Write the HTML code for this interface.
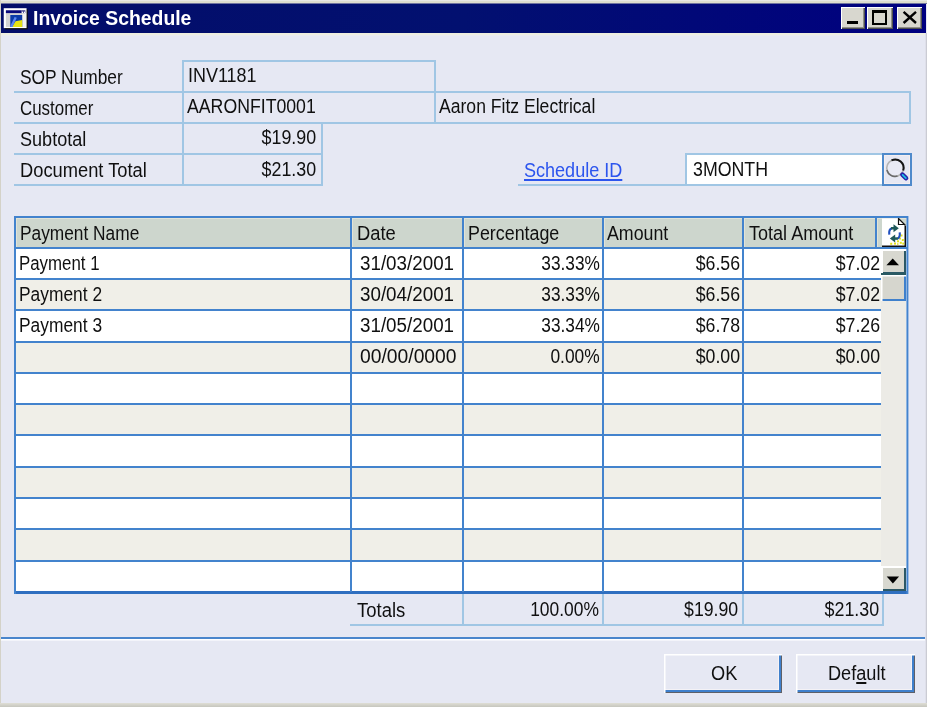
<!DOCTYPE html>
<html><head><meta charset="utf-8"><title>Invoice Schedule</title>
<style>
html,body{margin:0;padding:0}
body{position:relative;width:927px;height:707px;overflow:hidden;background:#e6e8f3;font-family:"Liberation Sans",sans-serif}
#blur{position:absolute;left:-8px;top:-8px;width:943px;height:723px;overflow:hidden;filter:blur(0.45px);background:#e6e8f3}
#win{position:absolute;left:8px;top:8px;width:927px;height:707px;overflow:visible;background:#e6e8f3}
#win div,#win span,#win svg{position:absolute}
.t{font-size:20px;line-height:24px;white-space:nowrap;color:#101010}
.t.title{font-weight:bold;color:#fff}
.t.link{color:#2c55ee;text-decoration:underline;text-decoration-thickness:1.5px;text-underline-offset:1.5px}
.t u{text-decoration-thickness:1.5px;text-underline-offset:2px}
.lb{background:#a0c6e4}
.gl{background:#4383cd}
.alt{background:#f0efe8}
.wh{background:#fff}
.hd{background:#cdd6cd;box-shadow:inset 1px 1px 0 #e2e3d6}
.btn{background:#e6e8f3;box-shadow:inset 1.5px 1.5px 0 #fff, inset -1px -1px 0 #5e6068, inset -3px -3px 0 #3f80cc, inset -4px -4px 0 #f4f2f6}
.sbtn{background:#d8d8d0;box-shadow:inset 2px 2px 0 #fff,inset -2px -2px 0 #2c5866}
.cap{background:#d8d7cf;box-shadow:inset 1px 1px 0 #fff,inset -1px -1px 0 #505050,inset -2px -2px 0 #909088}

</style></head>
<body>
<div id="blur"><div id="win">
<!-- edge extensions (so blur has no transparent bleed) -->
<div style="left:-8px;top:-8px;width:943px;height:8px;background:#e8e8e4"></div>
<div style="left:-8px;top:-8px;width:8px;height:723px;background:#d4d2c8"></div>
<div style="left:927px;top:-8px;width:8px;height:723px;background:#cbccd4"></div>
<div style="left:-8px;top:707px;width:943px;height:8px;background:#c6c6be"></div>
<!-- window frame -->
<div style="left:0;top:0;width:927px;height:4px;background:linear-gradient(180deg,#e8e8e4 0,#e8e8e4 1px,#dedecf 1px,#dedecf 3px,#70749f 3px)"></div>
<div style="left:0;top:0;width:1px;height:707px;background:#d4d2c8"></div>
<div style="left:1px;top:33px;width:925px;height:3px;background:linear-gradient(180deg,#ededde 0,#eeeee2 2px,#eaebee 2px)"></div>
<div style="left:925px;top:33px;width:2px;height:674px;background:linear-gradient(90deg,#dfe0ea 0,#dfe0ea 1px,#cbccd4 1px)"></div>
<div style="left:0;top:703px;width:927px;height:4px;background:linear-gradient(180deg,#dfded5,#c6c6be)"></div>
<!-- title bar -->
<div style="left:1px;top:4px;width:925px;height:29px;background:linear-gradient(90deg,#030d69,#021070 50%,#000080)"></div>
<!-- title icon -->
<svg style="left:0;top:0" width="32" height="34" viewBox="0 0 32 34">
  <rect x="5" y="9.4" width="22.7" height="19.9" fill="#0c0c0c"/>
  <rect x="3.75" y="8.2" width="22.8" height="19.9" fill="#fdfdfd"/>
  <rect x="5.9" y="10.3" width="19.4" height="16.6" fill="#d2d2d2"/>
  <rect x="5.9" y="10.3" width="15.2" height="2.8" fill="#08087c"/>
  <rect x="21.1" y="10.3" width="4.2" height="2.8" fill="#3a3a8c"/>
  <rect x="21.8" y="11.6" width="1.2" height="1.5" fill="#fff"/><rect x="23.8" y="11.6" width="1.2" height="1.5" fill="#fff"/>
  <rect x="22.2" y="13.5" width="3.6" height="13.4" fill="#f2f2f2"/>
  <rect x="10.3" y="15" width="11.9" height="11.9" fill="#0b3aa8"/>
  <polygon points="22.2,20 22.2,26.9 12,26.9 15.5,21.3" fill="#e6e212"/>
  <polygon points="10.6,25.6 14.6,17 16.8,17.8 12.4,26.9 10.6,26.9" fill="#5b86f2"/>
</svg>
<!-- caption buttons -->
<div class="cap" style="left:841px;top:7px;width:24px;height:22px"></div>
<div class="cap" style="left:867px;top:7px;width:26px;height:22px"></div>
<div class="cap" style="left:897px;top:7px;width:25px;height:22px"></div>
<div style="left:847px;top:21px;width:11px;height:3px;background:#000"></div>
<div style="left:872px;top:10px;width:15px;height:14.5px;box-sizing:border-box;border:2px solid #000;border-top-width:3px"></div>
<svg style="left:902px;top:10px" width="16" height="16" viewBox="0 0 16 16"><path d="M1.6 1.8 L14 13 M14 1.8 L1.6 13" stroke="#000" stroke-width="2.4" fill="none"/></svg>

<!-- form lines -->
<div class="lb" style="left:14px;top:91px;width:897px;height:2px"></div>
<div class="lb" style="left:14px;top:122px;width:897px;height:2px"></div>
<div class="lb" style="left:14px;top:153px;width:309px;height:2px"></div>
<div class="lb" style="left:14px;top:184px;width:309px;height:2px"></div>
<div class="lb" style="left:182px;top:60px;width:254px;height:2px"></div>
<div class="lb" style="left:182px;top:60px;width:2px;height:126px"></div>
<div class="lb" style="left:434px;top:60px;width:2px;height:64px"></div>
<div class="lb" style="left:909px;top:91px;width:2px;height:33px"></div>
<div class="lb" style="left:321px;top:122px;width:2px;height:64px"></div>
<!-- schedule id -->
<div class="lb" style="left:518px;top:184px;width:170px;height:2px"></div>
<div class="lb" style="left:685px;top:153px;width:198px;height:33px"></div>
<div class="wh" style="left:687px;top:155px;width:195px;height:29px"></div>
<!-- lookup button -->
<div style="left:882px;top:153px;width:30px;height:33px;box-sizing:border-box;border:2px solid #4f8acb;background:#e6e8f3;box-shadow:inset 1px 1px 0 #f4eef0,inset -1px -1px 0 #f4eef0"></div>
<svg style="left:882px;top:153px" width="30" height="33" viewBox="0 0 30 33">
  <circle cx="13.1" cy="15" r="8.4" fill="#e9eaf4" stroke="#b4b4b4" stroke-width="1.6"/>
  <path d="M4.9 17 A8.4 8.4 0 0 0 15.5 23.05" fill="none" stroke="#6a6a6a" stroke-width="1.5"/>
  <path d="M9.5 7.4 A8.4 8.4 0 0 1 21.2 17.5" fill="none" stroke="#141414" stroke-width="2"/>
  <path d="M20.4 21.6 L24 25.2" stroke="#2a22a8" stroke-width="4.6" stroke-linecap="round"/>
  <path d="M20.6 21.8 L23.9 25.1" stroke="#1cc4e6" stroke-width="1.7" stroke-linecap="round"/>
</svg>

<!-- grid -->
<div class="wh" style="left:14px;top:216px;width:894px;height:378px"></div>
<div class="hd" style="left:16px;top:218px;width:890px;height:30px"></div>
<div class="alt" style="left:16px;top:280px;width:865px;height:30px"></div>
<div class="alt" style="left:16px;top:343px;width:865px;height:30px"></div>
<div class="alt" style="left:16px;top:405px;width:865px;height:30px"></div>
<div class="alt" style="left:16px;top:468px;width:865px;height:30px"></div>
<div class="alt" style="left:16px;top:530px;width:865px;height:31px"></div>
<!-- scrollbar -->
<div style="left:881px;top:249px;width:25px;height:343px;background:#ecebe6"></div>
<div class="sbtn" style="left:881px;top:249px;width:25px;height:25px"></div>
<div style="left:881px;top:273px;width:25px;height:2px;background:#2a5a62"></div>
<div style="left:881px;top:275px;width:25px;height:26px;background:#d6d6ce;box-shadow:inset 1.5px 1.5px 0 #fff,inset -2px -2px 0 #3f80cc"></div>
<div class="sbtn" style="left:881px;top:566px;width:25px;height:25px"></div>
<svg style="left:881px;top:249px" width="25" height="25" viewBox="0 0 25 25"><polygon points="11.7,9.5 18,16.2 5.4,16.2" fill="#000"/></svg>
<svg style="left:881px;top:566px" width="25" height="26" viewBox="0 0 25 26"><polygon points="5.7,10.6 18.1,10.6 11.9,17.6" fill="#000"/></svg>
<!-- grid lines horizontal -->
<div class="gl" style="left:14px;top:216px;width:894px;height:2px"></div>
<div class="gl" style="left:14px;top:247px;width:894px;height:2px"></div>
<div class="gl" style="left:14px;top:278px;width:867px;height:2px"></div>
<div class="gl" style="left:14px;top:309px;width:867px;height:2px"></div>
<div class="gl" style="left:14px;top:341px;width:867px;height:2px"></div>
<div class="gl" style="left:14px;top:372px;width:867px;height:2px"></div>
<div class="gl" style="left:14px;top:403px;width:867px;height:2px"></div>
<div class="gl" style="left:14px;top:434px;width:867px;height:2px"></div>
<div class="gl" style="left:14px;top:466px;width:867px;height:2px"></div>
<div class="gl" style="left:14px;top:497px;width:867px;height:2px"></div>
<div class="gl" style="left:14px;top:528px;width:867px;height:2px"></div>
<div class="gl" style="left:14px;top:560px;width:867px;height:2px"></div>
<div class="gl" style="left:14px;top:591px;width:894px;height:3px;background:#2f6fc0"></div>
<!-- grid lines vertical -->
<div class="gl" style="left:14px;top:216px;width:2px;height:378px"></div>
<div class="gl" style="left:350px;top:216px;width:2px;height:376px"></div>
<div class="gl" style="left:462px;top:216px;width:2px;height:376px"></div>
<div class="gl" style="left:602px;top:216px;width:2px;height:376px"></div>
<div class="gl" style="left:742px;top:216px;width:2px;height:376px"></div>
<div class="gl" style="left:875px;top:216px;width:2px;height:32px"></div>
<div class="gl" style="left:906px;top:216px;width:2px;height:378px;transform:translateX(0.4px)"></div>
<div style="left:352px;top:218px;width:1px;height:29px;background:#e2e3d6"></div>
<div style="left:464px;top:218px;width:1px;height:29px;background:#e2e3d6"></div>
<div style="left:604px;top:218px;width:1px;height:29px;background:#e2e3d6"></div>
<div style="left:744px;top:218px;width:1px;height:29px;background:#e2e3d6"></div>
<div style="left:877px;top:218px;width:1px;height:29px;background:#e2e3d6"></div>
<!-- refresh icon -->
<svg style="left:881px;top:218px" width="27" height="30" viewBox="0 0 27 30">
  <polygon points="1,1 18,1 25,8 25,29 1,29" fill="#101010"/>
  <polygon points="1,0.5 17.5,0.5 23.5,6.5 23.5,27.5 1,27.5" fill="#fff"/>
  <polygon points="17.5,0.5 23.5,6.5 17.5,6.5" fill="#fff" stroke="#101010" stroke-width="1.2"/>
  <g fill="#e2e21c"><rect x="19.5" y="16.5" width="2" height="2"/><rect x="18" y="19.5" width="2" height="2"/><rect x="20.8" y="21" width="2" height="2"/><rect x="16" y="22.3" width="2" height="2"/><rect x="18.8" y="23.8" width="2" height="2"/><rect x="13" y="24.6" width="2" height="2"/><rect x="9.2" y="24.8" width="2" height="2"/><rect x="21.3" y="24.6" width="2" height="2"/><rect x="16" y="25.3" width="1.5" height="1.5"/></g>
  <path d="M8.3 16.6 Q7.6 11.4 10.8 10.3" fill="none" stroke="#2050c0" stroke-width="2.1"/>
  <rect x="10" y="9" width="3.2" height="2.5" fill="#1f5a5a"/>
  <polygon points="12.5,6.2 17.8,10.2 12.5,14.3" fill="#1f5a5a"/>
  <path d="M18.7 14.3 Q19.4 19.6 16.2 20.7" fill="none" stroke="#2050c0" stroke-width="2.1"/>
  <rect x="13.6" y="19.3" width="3.2" height="2.5" fill="#1f5a5a"/>
  <polygon points="14.2,16.5 8.8,20.5 14.2,24.6" fill="#1f5a5a"/>
</svg>

<!-- totals -->
<div class="lb" style="left:350px;top:624px;width:534px;height:2px"></div>
<div class="lb" style="left:462px;top:594px;width:2px;height:32px"></div>
<div class="lb" style="left:602px;top:594px;width:2px;height:32px"></div>
<div class="lb" style="left:742px;top:594px;width:2px;height:32px"></div>
<div class="lb" style="left:882px;top:594px;width:2px;height:32px"></div>
<!-- separator -->
<div style="left:1px;top:637px;width:924px;height:2px;background:#4a86cc"></div>
<div style="left:1px;top:639px;width:924px;height:2px;background:linear-gradient(180deg,#fff 0,#fff 1px,#f3f4fa 1px)"></div>
<!-- buttons -->
<div class="btn" style="left:664px;top:654px;width:118px;height:39px"></div>
<div class="btn" style="left:796px;top:654px;width:119px;height:39px"></div>

<span class="t " style="left:20.10px;top:64.60px;transform-origin:0 0;transform:scaleX(0.8669)">SOP Number</span>
<span class="t " style="left:20.10px;top:96.00px;transform-origin:0 0;transform:scaleX(0.8454)">Customer</span>
<span class="t " style="left:20.10px;top:127.00px;transform-origin:0 0;transform:scaleX(0.9034)">Subtotal</span>
<span class="t " style="left:20.10px;top:158.10px;transform-origin:0 0;transform:scaleX(0.9149)">Document Total</span>
<span class="t " style="left:187.85px;top:62.60px;transform-origin:0 0;transform:scaleX(0.8977)">INV1181</span>
<span class="t " style="left:187.10px;top:93.60px;transform-origin:0 0;transform:scaleX(0.8846)">AARONFIT0001</span>
<span class="t " style="right:610.35px;top:125.10px;transform-origin:100% 0;transform:scaleX(0.8926)">$19.90</span>
<span class="t " style="right:610.35px;top:156.60px;transform-origin:100% 0;transform:scaleX(0.8926)">$21.30</span>
<span class="t " style="left:439.10px;top:93.60px;transform-origin:0 0;transform:scaleX(0.8789)">Aaron Fitz Electrical</span>
<span class="t link" style="left:523.60px;top:158.10px;transform-origin:0 0;transform:scaleX(0.9021)">Schedule ID</span>
<span class="t " style="left:692.85px;top:156.85px;transform-origin:0 0;transform:scaleX(0.8887)">3MONTH</span>
<span class="t " style="left:20.35px;top:220.60px;transform-origin:0 0;transform:scaleX(0.8655)">Payment Name</span>
<span class="t " style="left:356.60px;top:220.60px;transform-origin:0 0;transform:scaleX(0.9183)">Date</span>
<span class="t " style="left:468.35px;top:220.60px;transform-origin:0 0;transform:scaleX(0.8925)">Percentage</span>
<span class="t " style="left:607.10px;top:220.60px;transform-origin:0 0;transform:scaleX(0.8892)">Amount</span>
<span class="t " style="left:749.10px;top:220.60px;transform-origin:0 0;transform:scaleX(0.9021)">Total Amount</span>
<span class="t " style="left:19.10px;top:250.60px;transform-origin:0 0;transform:scaleX(0.8425)">Payment 1</span>
<span class="t " style="left:359.85px;top:250.60px;transform-origin:0 0;transform:scaleX(0.9395)">31/03/2001</span>
<span class="t " style="right:327.35px;top:250.60px;transform-origin:100% 0;transform:scaleX(0.8630)">33.33%</span>
<span class="t " style="right:187.35px;top:250.60px;transform-origin:100% 0;transform:scaleX(0.8859)">$6.56</span>
<span class="t " style="right:47.35px;top:250.60px;transform-origin:100% 0;transform:scaleX(0.8859)">$7.02</span>
<span class="t " style="left:19.10px;top:281.85px;transform-origin:0 0;transform:scaleX(0.8686)">Payment 2</span>
<span class="t " style="left:359.85px;top:281.85px;transform-origin:0 0;transform:scaleX(0.9395)">30/04/2001</span>
<span class="t " style="right:327.35px;top:281.85px;transform-origin:100% 0;transform:scaleX(0.8630)">33.33%</span>
<span class="t " style="right:187.35px;top:281.85px;transform-origin:100% 0;transform:scaleX(0.8859)">$6.56</span>
<span class="t " style="right:47.35px;top:281.85px;transform-origin:100% 0;transform:scaleX(0.8859)">$7.02</span>
<span class="t " style="left:19.10px;top:313.10px;transform-origin:0 0;transform:scaleX(0.8686)">Payment 3</span>
<span class="t " style="left:359.85px;top:313.10px;transform-origin:0 0;transform:scaleX(0.9395)">31/05/2001</span>
<span class="t " style="right:327.35px;top:313.10px;transform-origin:100% 0;transform:scaleX(0.8630)">33.34%</span>
<span class="t " style="right:187.35px;top:313.10px;transform-origin:100% 0;transform:scaleX(0.8859)">$6.78</span>
<span class="t " style="right:47.35px;top:313.10px;transform-origin:100% 0;transform:scaleX(0.8859)">$7.26</span>
<span class="t " style="left:359.85px;top:344.35px;transform-origin:0 0;transform:scaleX(0.9644)">00/00/0000</span>
<span class="t " style="right:327.35px;top:344.35px;transform-origin:100% 0;transform:scaleX(0.8692)">0.00%</span>
<span class="t " style="right:187.35px;top:344.35px;transform-origin:100% 0;transform:scaleX(0.8859)">$0.00</span>
<span class="t " style="right:47.35px;top:344.35px;transform-origin:100% 0;transform:scaleX(0.8859)">$0.00</span>
<span class="t " style="left:357.10px;top:597.90px;transform-origin:0 0;transform:scaleX(0.9244)">Totals</span>
<span class="t " style="right:328.10px;top:597.10px;transform-origin:100% 0;transform:scaleX(0.8712)">100.00%</span>
<span class="t " style="right:188.80px;top:597.10px;transform-origin:100% 0;transform:scaleX(0.8844)">$19.90</span>
<span class="t " style="right:48.10px;top:597.10px;transform-origin:100% 0;transform:scaleX(0.8926)">$21.30</span>
<span class="t " style="left:711.40px;top:660.60px;transform-origin:0 0;transform:scaleX(0.9098)">OK</span>
<span class="t " style="left:827.60px;top:660.60px;transform-origin:0 0;transform:scaleX(0.9073)">Def<u>a</u>ult</span>
<span class="t title" style="left:32.50px;top:5.60px;transform-origin:0 0;transform:scaleX(0.9695)">Invoice Schedule</span>
</div></div>
</body></html>
